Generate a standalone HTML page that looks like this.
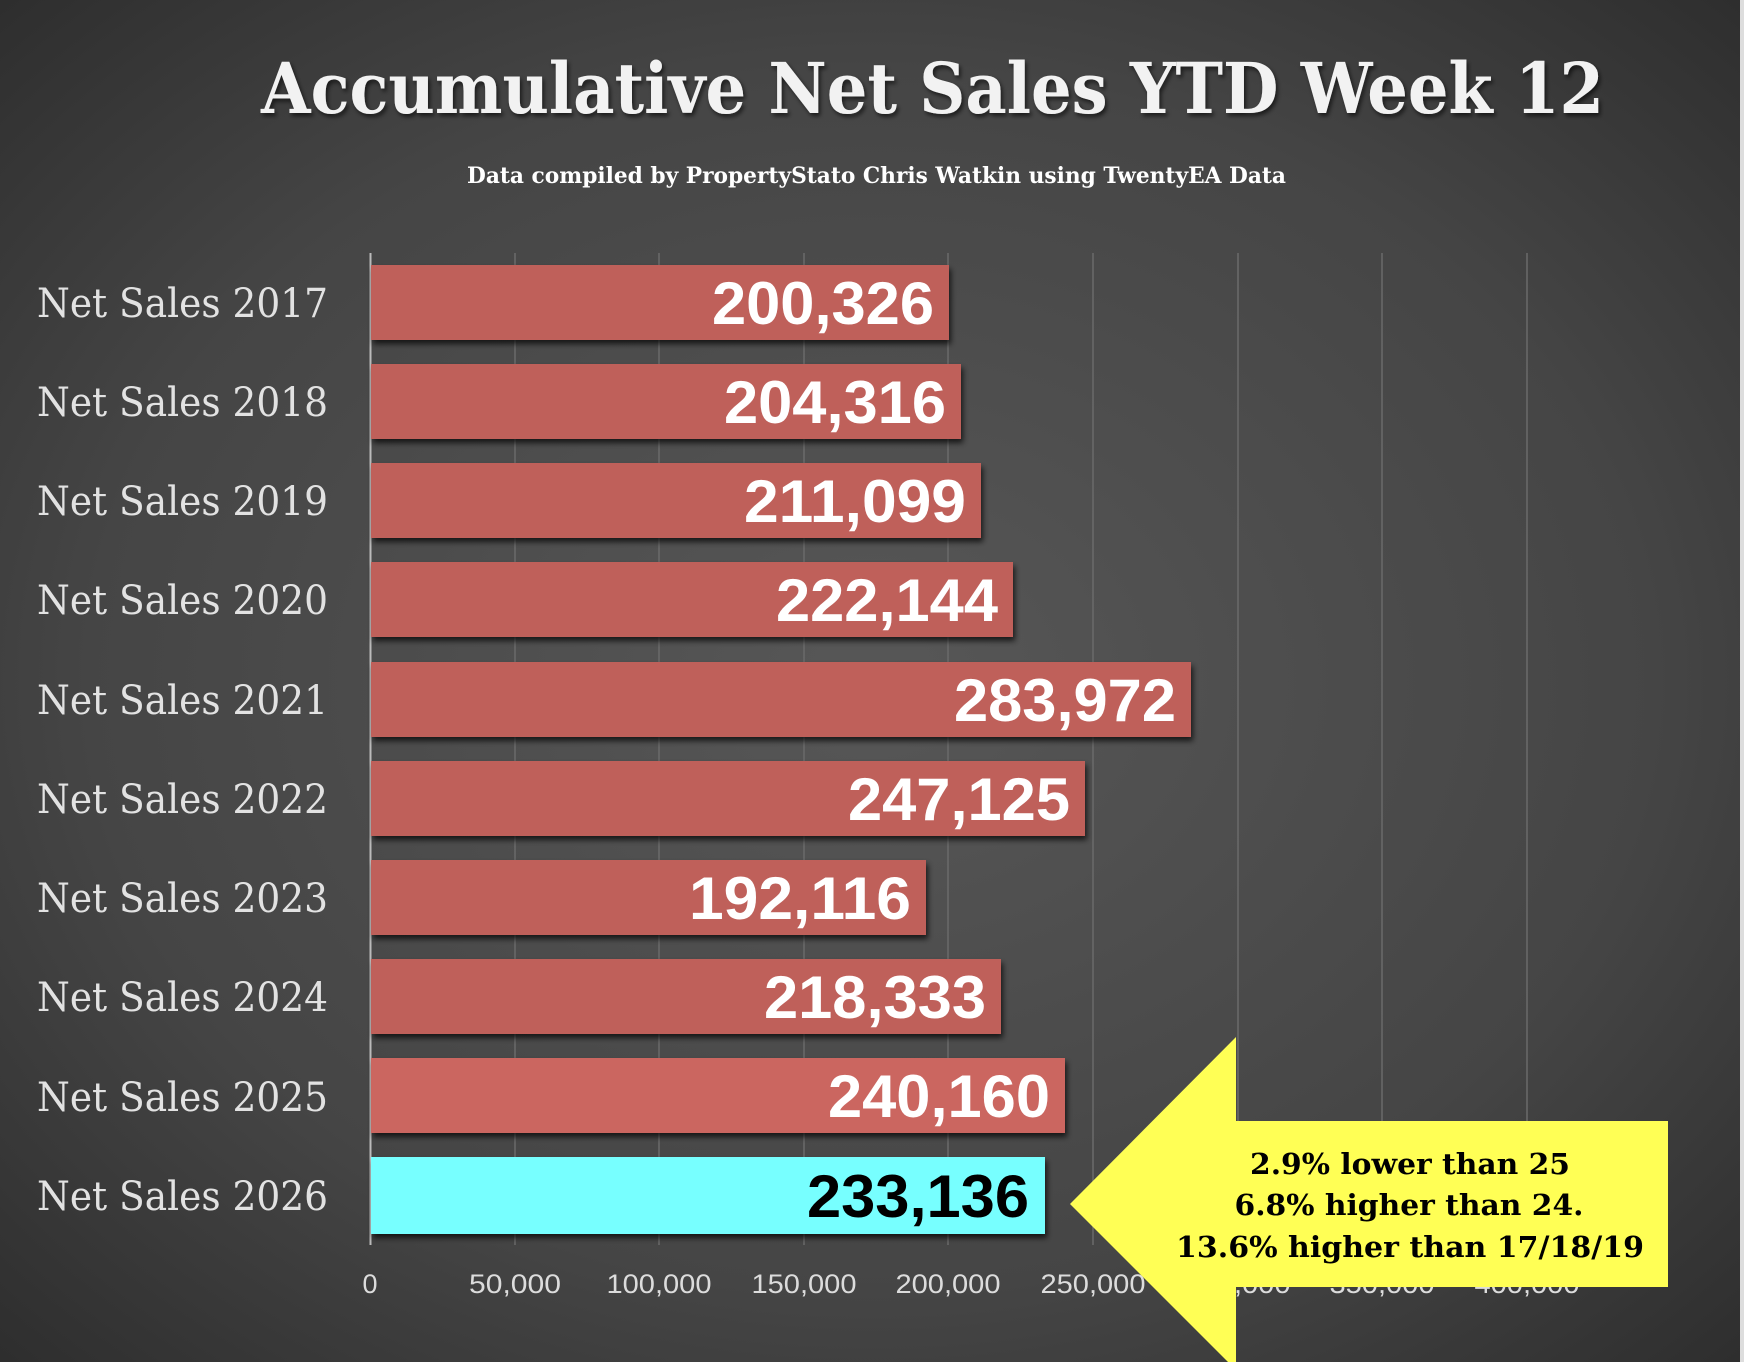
<!DOCTYPE html>
<html><head><meta charset="utf-8"><style>
html,body{margin:0;padding:0;background:#333}
svg{display:block}
</style></head><body>
<svg width="1744" height="1362" viewBox="0 0 1744 1362" xmlns="http://www.w3.org/2000/svg">
<defs>
<radialGradient id="bg" cx="0.5" cy="0.5" r="0.75">
<stop offset="0" stop-color="#575757"/>
<stop offset="0.6" stop-color="#454545"/>
<stop offset="1" stop-color="#2a2a2a"/>
</radialGradient>
<filter id="sh" x="-5%" y="-10%" width="110%" height="140%">
<feDropShadow dx="2" dy="4" stdDeviation="3" flood-color="#000" flood-opacity="0.7"/>
</filter>
<filter id="tsh"><feDropShadow dx="2" dy="3" stdDeviation="2" flood-color="#000" flood-opacity="0.6"/></filter>
</defs>
<rect width="1744" height="1362" fill="url(#bg)"/>
<rect x="1740" y="0" width="4" height="1362" fill="#ddd"/>
<g font-family="DejaVu Serif, Liberation Serif, serif" font-weight="bold" fill="#f2f2f2" filter="url(#tsh)">
<text x="261" y="113" font-size="70" textLength="1343" lengthAdjust="spacingAndGlyphs">Accumulative Net Sales YTD Week 12</text>
</g>
<text x="467" y="183" font-family="DejaVu Serif, serif" font-weight="bold" font-size="22" fill="#fff" textLength="819" lengthAdjust="spacingAndGlyphs">Data compiled by PropertyStato Chris Watkin using TwentyEA Data</text>
<g stroke="#6a6a6a" stroke-width="1.5">
<line x1="515" y1="253" x2="515" y2="1245"/>
<line x1="659" y1="253" x2="659" y2="1245"/>
<line x1="804" y1="253" x2="804" y2="1245"/>
<line x1="948" y1="253" x2="948" y2="1245"/>
<line x1="1093" y1="253" x2="1093" y2="1245"/>
<line x1="1238" y1="253" x2="1238" y2="1245"/>
<line x1="1382" y1="253" x2="1382" y2="1245"/>
<line x1="1527" y1="253" x2="1527" y2="1245"/>
</g>
<line x1="370.5" y1="253" x2="370.5" y2="1245" stroke="#bbb" stroke-width="2"/>
<g filter="url(#sh)">
<rect x="371" y="265" width="578" height="75" fill="#bf605a"/>
<rect x="371" y="364" width="590" height="75" fill="#bf605a"/>
<rect x="371" y="463" width="610" height="75" fill="#bf605a"/>
<rect x="371" y="562" width="642" height="75" fill="#bf605a"/>
<rect x="371" y="662" width="820" height="75" fill="#bf605a"/>
<rect x="371" y="761" width="714" height="75" fill="#bf605a"/>
<rect x="371" y="860" width="555" height="75" fill="#bf605a"/>
<rect x="371" y="959" width="630" height="75" fill="#bf605a"/>
<rect x="371" y="1058" width="694" height="75" fill="#cb6660"/>
<rect x="371" y="1157" width="674" height="77" fill="#77ffff"/>
</g>
<g font-family="Liberation Sans, sans-serif" font-weight="bold" font-size="60" fill="#fff" text-anchor="end">
<text x="934" y="324" textLength="222" lengthAdjust="spacingAndGlyphs">200,326</text>
<text x="946" y="423" textLength="222" lengthAdjust="spacingAndGlyphs">204,316</text>
<text x="966" y="522" textLength="222" lengthAdjust="spacingAndGlyphs">211,099</text>
<text x="998" y="621" textLength="222" lengthAdjust="spacingAndGlyphs">222,144</text>
<text x="1176" y="721" textLength="222" lengthAdjust="spacingAndGlyphs">283,972</text>
<text x="1070" y="820" textLength="222" lengthAdjust="spacingAndGlyphs">247,125</text>
<text x="911" y="919" textLength="222" lengthAdjust="spacingAndGlyphs">192,116</text>
<text x="986" y="1018" textLength="222" lengthAdjust="spacingAndGlyphs">218,333</text>
<text x="1050" y="1117" textLength="222" lengthAdjust="spacingAndGlyphs">240,160</text>
<text x="1029" y="1217" textLength="222" lengthAdjust="spacingAndGlyphs" fill="#000">233,136</text>
</g>
<g font-family="DejaVu Serif, Liberation Serif, serif" font-size="40" fill="#e2e2e2">
<text x="37" y="317" textLength="291" lengthAdjust="spacingAndGlyphs">Net Sales 2017</text>
<text x="37" y="416" textLength="291" lengthAdjust="spacingAndGlyphs">Net Sales 2018</text>
<text x="37" y="515" textLength="291" lengthAdjust="spacingAndGlyphs">Net Sales 2019</text>
<text x="37" y="614" textLength="291" lengthAdjust="spacingAndGlyphs">Net Sales 2020</text>
<text x="37" y="714" textLength="291" lengthAdjust="spacingAndGlyphs">Net Sales 2021</text>
<text x="37" y="813" textLength="291" lengthAdjust="spacingAndGlyphs">Net Sales 2022</text>
<text x="37" y="912" textLength="291" lengthAdjust="spacingAndGlyphs">Net Sales 2023</text>
<text x="37" y="1011" textLength="291" lengthAdjust="spacingAndGlyphs">Net Sales 2024</text>
<text x="37" y="1111" textLength="291" lengthAdjust="spacingAndGlyphs">Net Sales 2025</text>
<text x="37" y="1210" textLength="291" lengthAdjust="spacingAndGlyphs">Net Sales 2026</text>
</g>
<g font-family="Liberation Sans, sans-serif" font-size="27" fill="#dcdcdc" text-anchor="middle">
<text x="370" y="1293">0</text>
<text x="515" y="1293" textLength="92" lengthAdjust="spacingAndGlyphs">50,000</text>
<text x="659" y="1293" textLength="105" lengthAdjust="spacingAndGlyphs">100,000</text>
<text x="804" y="1293" textLength="105" lengthAdjust="spacingAndGlyphs">150,000</text>
<text x="948" y="1293" textLength="105" lengthAdjust="spacingAndGlyphs">200,000</text>
<text x="1093" y="1293" textLength="105" lengthAdjust="spacingAndGlyphs">250,000</text>
<text x="1238" y="1293" textLength="105" lengthAdjust="spacingAndGlyphs">300,000</text>
<text x="1382" y="1293" textLength="105" lengthAdjust="spacingAndGlyphs">350,000</text>
<text x="1527" y="1293" textLength="105" lengthAdjust="spacingAndGlyphs">400,000</text>
</g>
<polygon points="1070,1204 1236,1037 1236,1121 1668,1121 1668,1287 1236,1287 1236,1362 1236,1370" fill="#ffff55"/>
<g font-family="DejaVu Serif, serif" font-weight="bold" font-size="29" fill="#000" text-anchor="middle">
<text x="1410" y="1174" textLength="320" lengthAdjust="spacingAndGlyphs">2.9% lower than 25</text>
<text x="1409" y="1215" textLength="349" lengthAdjust="spacingAndGlyphs">6.8% higher than 24.</text>
<text x="1410" y="1257" textLength="468" lengthAdjust="spacingAndGlyphs">13.6% higher than 17/18/19</text>
</g>
</svg>
</body></html>
